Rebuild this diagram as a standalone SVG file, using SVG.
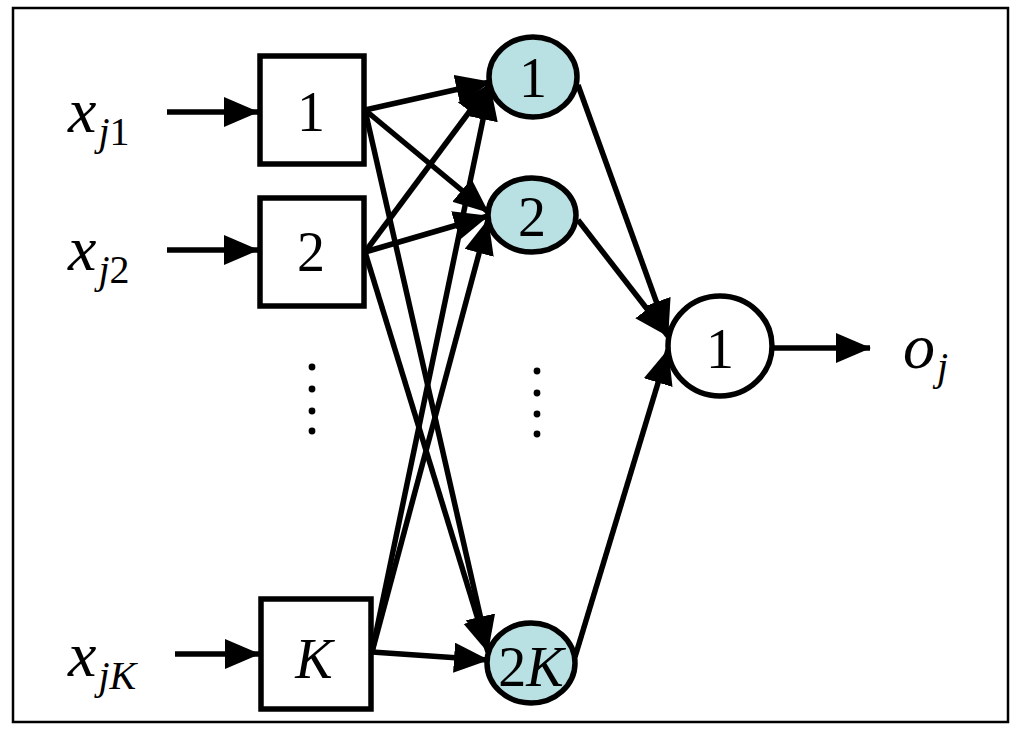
<svg xmlns="http://www.w3.org/2000/svg" width="1024" height="738" viewBox="0 0 1024 738">
<defs>
<marker id="ah" markerUnits="userSpaceOnUse" markerWidth="40" markerHeight="34" refX="34" refY="15" orient="auto">
<path d="M0,0 L35,15 L0,30 z" fill="#000"/>
</marker>
<style>
.box{fill:#fff;stroke:#000;stroke-width:5.5}
.hid{fill:#b9e0e2;stroke:#000;stroke-width:5.5}
.out{fill:#fff;stroke:#000;stroke-width:5.5}
.edge{stroke:#000;stroke-width:5.5;fill:none;marker-end:url(#ah)}
.t{font-family:"Liberation Serif","Times New Roman",serif;fill:#000}
.num{font-size:56px;text-anchor:middle}
.lab{font-size:64px;font-style:italic}
.sub{font-size:40px}
.dot{fill:#000}
</style>
</defs>
<rect x="13" y="8" width="995" height="714" fill="#fff" stroke="#000" stroke-width="2.5"/>
<g id="connectors">
<line class="edge" x1="167" y1="112" x2="258" y2="112"/>
<line class="edge" x1="167" y1="250" x2="258" y2="250"/>
<line class="edge" x1="175" y1="654" x2="259" y2="654"/>
<line class="edge" x1="365" y1="110" x2="490" y2="82"/>
<line class="edge" x1="365" y1="110" x2="488" y2="212"/>
<line class="edge" x1="365" y1="110" x2="488" y2="650"/>
<line class="edge" x1="365" y1="252" x2="490" y2="84"/>
<line class="edge" x1="365" y1="252" x2="488" y2="216"/>
<line class="edge" x1="365" y1="252" x2="488" y2="652"/>
<line class="edge" x1="372" y1="652" x2="490" y2="86"/>
<line class="edge" x1="372" y1="652" x2="488" y2="220"/>
<line class="edge" x1="372" y1="652" x2="488" y2="660"/>
<line class="edge" x1="578" y1="85" x2="668" y2="334"/>
<line class="edge" x1="578" y1="220" x2="668" y2="336"/>
<line class="edge" x1="575" y1="657" x2="668" y2="350"/>
<line class="edge" x1="773" y1="348" x2="870" y2="348"/>
</g>
<g id="label-xj1"><text class="t lab" x="68" y="132">x<tspan class="sub" dx="2" dy="13">j</tspan><tspan class="sub" style="font-style:normal">1</tspan></text></g>
<g id="label-xj2"><text class="t lab" x="68" y="270">x<tspan class="sub" dx="2" dy="13">j</tspan><tspan class="sub" style="font-style:normal">2</tspan></text></g>
<g id="label-xjK"><text class="t lab" x="68" y="676">x<tspan class="sub" dx="2" dy="13">jK</tspan></text></g>
<g id="in1"><rect class="box" x="260" y="56" width="104" height="108"/><text class="t num" x="311" y="131">1</text></g>
<g id="in2"><rect class="box" x="260" y="198" width="104" height="108"/><text class="t num" x="311" y="271">2</text></g>
<g id="inK"><rect class="box" x="261" y="599" width="110" height="110"/><text class="t num" x="314" y="678" font-style="italic">K</text></g>
<g id="h1"><ellipse class="hid" cx="533" cy="77" rx="44" ry="40"/><text class="t num" x="533" y="97">1</text></g>
<g id="h2"><ellipse class="hid" cx="532" cy="215" rx="44" ry="37"/><text class="t num" x="532" y="236">2</text></g>
<g id="h2K"><ellipse class="hid" cx="531" cy="663" rx="44" ry="40"/><text class="t num" x="531" y="686">2<tspan font-style="italic">K</tspan></text></g>
<g id="o1"><ellipse class="out" cx="720" cy="346" rx="52" ry="50"/><text class="t num" x="720" y="368">1</text></g>
<g id="label-oj"><text class="t lab" x="903" y="368">o<tspan class="sub" dx="2" dy="12">j</tspan></text></g>
<g id="dots-left"><circle class="dot" cx="312" cy="367" r="3.4"/><circle class="dot" cx="312" cy="389" r="3.4"/><circle class="dot" cx="312" cy="411" r="3.4"/><circle class="dot" cx="312" cy="431" r="3.4"/></g>
<g id="dots-right"><circle class="dot" cx="537" cy="371" r="3.4"/><circle class="dot" cx="537" cy="393" r="3.4"/><circle class="dot" cx="537" cy="414" r="3.4"/><circle class="dot" cx="537" cy="434" r="3.4"/></g>
</svg>
